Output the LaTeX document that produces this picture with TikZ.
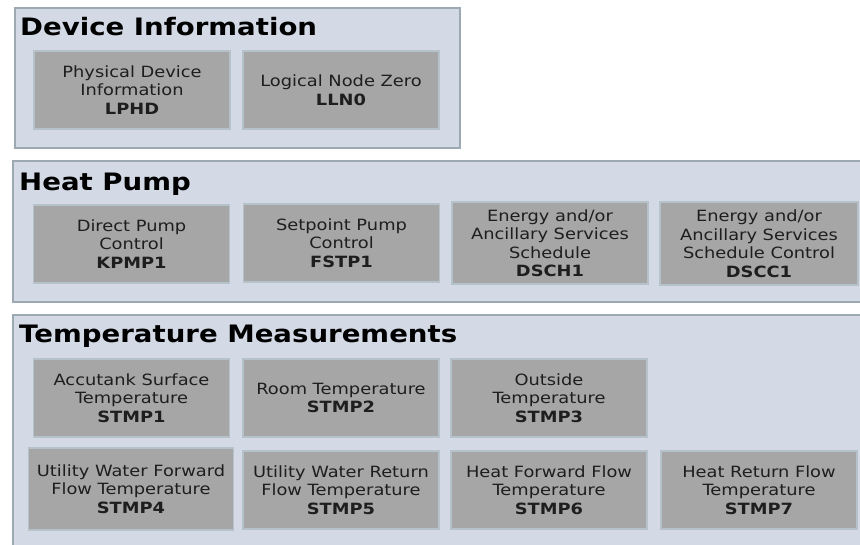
\documentclass[tikz,border=0pt]{standalone}
\usepackage{fontspec}
\setmainfont{DejaVu Sans}[FakeStretch=1.15]
\usepackage{tikz}
\usepackage{xcolor}
\usetikzlibrary{positioning}
\definecolor{panelfill}{HTML}{D3DAE5}
\definecolor{paneldraw}{HTML}{9CA8B2}
\definecolor{lnfill}{HTML}{A6A6A6}
\definecolor{lndraw}{HTML}{B6C2CA}
\definecolor{lntext}{HTML}{1E1E1E}
\tikzset{
  panel/.style={draw=paneldraw, fill=panelfill, line width=1.5pt, anchor=north west, inner sep=0pt},
  lnbox/.style={draw=lndraw, fill=lnfill, line width=1.5pt, minimum width=196pt, minimum height=78pt,
    align=center, inner sep=0pt, text=lntext, font=\fontsize{15.5}{18.5}\selectfont},
  grouptitle/.style={anchor=base west, inner sep=0pt, font=\fontsize{24}{28}\selectfont\bfseries}
}

\begin{document}
\begin{tikzpicture}[x=1pt, y=-1pt]
                        \clip (0,0) rectangle (860,544);
                        \fill[white] (0,0) rectangle (860,544);
                        \node[panel, minimum width=445pt, minimum height=140pt] (dev) at (14,7) {};
                        \node[panel, minimum width=870pt, minimum height=141pt] (pump) at (12,160) {};
                        \node[panel, minimum width=870pt, minimum height=250pt] (temp) at (12,314) {};
                        \node[grouptitle] (devtitle) at (20,35) {Device Information};
                        \node[grouptitle] (pumptitle) at (19,190) {Heat Pump};
                        \node[grouptitle] (temptitle) at (19,342) {Temperature Measurements};
                        \node[lnbox] (lphd) at (132,90) {Physical Device\\Information\\\textbf{LPHD}};
                        \node[lnbox] (lln0) at (341,90) {Logical Node Zero\\\textbf{LLN0}};
                        \node[lnbox] (kpmp1) at (131.5,244) {Direct Pump\\Control\\\textbf{KPMP1}};
                        \node[lnbox] (fstp1) at (341.5,243) {Setpoint Pump\\Control\\\textbf{FSTP1}};
                        \node[lnbox, minimum height=82pt] (dsch1) at (550,243) {Energy and/or\\Ancillary Services\\Schedule\\\textbf{DSCH1}};
                        \node[lnbox, minimum height=83pt, minimum width=198pt] (dscc1) at (759,243.5) {Energy and/or\\Ancillary Services\\Schedule Control\\\textbf{DSCC1}};
                        \node[lnbox] (stmp1) at (131.5,398) {Accutank Surface\\Temperature\\\textbf{STMP1}};
                        \node[lnbox] (stmp2) at (341,398) {Room Temperature\\\textbf{STMP2}};
                        \node[lnbox] (stmp3) at (549,398) {Outside\\Temperature\\\textbf{STMP3}};
                        \node[lnbox, minimum width=205pt, minimum height=82pt] (stmp4) at (131,489) {Utility Water Forward\\Flow Temperature\\\textbf{STMP4}};
                        \node[lnbox] (stmp5) at (341,490) {Utility Water Return\\Flow Temperature\\\textbf{STMP5}};
                        \node[lnbox] (stmp6) at (549,490) {Heat Forward Flow\\Temperature\\\textbf{STMP6}};
                        \node[lnbox] (stmp7) at (759,490) {Heat Return Flow\\Temperature\\\textbf{STMP7}};
                    \end{tikzpicture}
\end{document}
